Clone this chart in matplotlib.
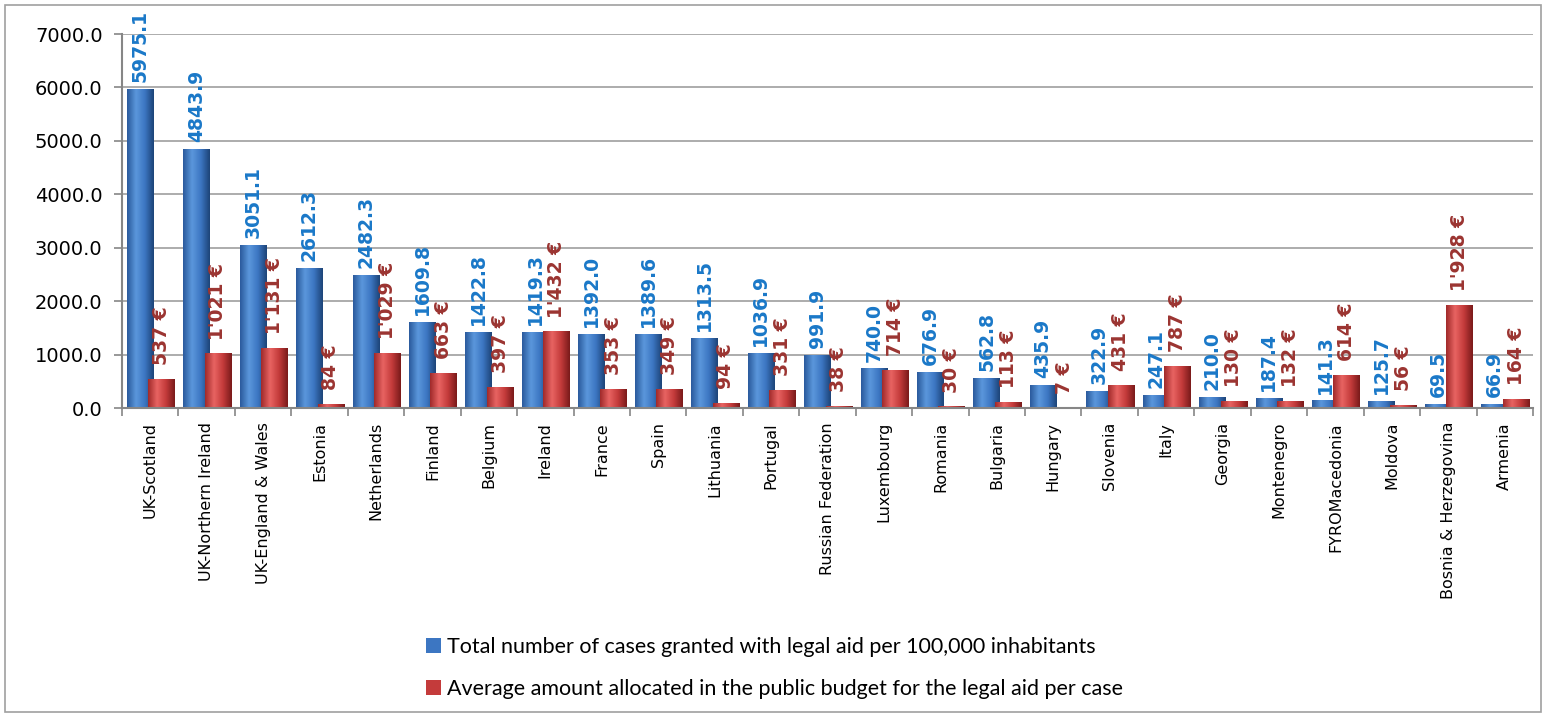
import matplotlib.pyplot as plt
import numpy as np
from matplotlib.colors import LinearSegmentedColormap
from matplotlib.patches import Rectangle
from matplotlib.ticker import FormatStrFormatter, FixedLocator

plt.rcParams['font.family'] = ['DejaVu Sans']

countries = ['UK-Scotland', 'UK-Northern Ireland', 'UK-England & Wales', 'Estonia',
             'Netherlands', 'Finland', 'Belgium', 'Ireland', 'France', 'Spain',
             'Lithuania', 'Portugal', 'Russian Federation', 'Luxembourg', 'Romania',
             'Bulgaria', 'Hungary', 'Slovenia', 'Italy', 'Georgia', 'Montenegro',
             'FYROMacedonia', 'Moldova', 'Bosnia & Herzegovina', 'Armenia']
cases = [5975.1, 4843.9, 3051.1, 2612.3, 2482.3, 1609.8, 1422.8, 1419.3, 1392.0,
         1389.6, 1313.5, 1036.9, 991.9, 740.0, 676.9, 562.8, 435.9, 322.9, 247.1,
         210.0, 187.4, 141.3, 125.7, 69.5, 66.9]
amount = [537, 1021, 1131, 84, 1029, 663, 397, 1432, 353, 349, 94, 331, 38, 714,
          30, 113, 7, 431, 787, 130, 132, 614, 56, 1928, 164]

label_cases = 'Total number of cases granted with legal aid per 100,000 inhabitants'
label_amount = 'Average amount allocated in the public budget for the legal aid per case'


def euro(v):
    return '{:,}'.format(v).replace(',', "'") + ' €'


fig = plt.figure(figsize=(15.46, 7.17), dpi=100)
ax = fig.add_axes([122 / 1546, 1 - 408 / 717, 1411 / 1546, 374 / 717])

x = np.arange(len(countries))
w = 0.47
blue_cm = LinearSegmentedColormap.from_list('b', ['#2a5a9c', '#5b97dc', '#3c76c2', '#1d4478'])
red_cm = LinearSegmentedColormap.from_list('r', ['#a02a2a', '#e86462', '#c43b3b', '#7a1a1a'])
grad = np.linspace(0, 1, 64).reshape(1, -1)

b1 = ax.bar(x - 0.18, cases, w, color='#3c76c2', zorder=3, label=label_cases)
b2 = ax.bar(x + 0.20, amount, w, color='#c43b3b', zorder=4, label=label_amount)

# horizontal shading on each bar to give the rounded look
for bars, cm, z in ((b1, blue_cm, 3), (b2, red_cm, 4)):
    for b in bars:
        x0, h = b.get_x(), b.get_height()
        im = ax.imshow(grad, cmap=cm, extent=(x0, x0 + b.get_width(), 0, h),
                       aspect='auto', zorder=z + 0.1, interpolation='bicubic')
        im.set_clip_path(b)

for b, v in zip(b1, cases):
    ax.annotate('%.1f' % v, (b.get_x() + b.get_width() / 2, v), xytext=(0, 5),
                textcoords='offset points', rotation=90, ha='center', va='bottom',
                color='#1a78c8', fontsize=13.5, fontweight='bold', zorder=6)
for b, v in zip(b2, amount):
    ax.annotate(euro(v), (b.get_x() + b.get_width() / 2, v), xytext=(0, 10),
                textcoords='offset points', rotation=90, ha='center', va='bottom',
                color='#9b3431', fontsize=13.5, fontweight='bold', zorder=6)

ax.set_xlim(-0.5, len(countries) - 0.5)
ax.set_ylim(0, 7000)
ax.set_yticks(np.arange(0, 7001, 1000))
ax.yaxis.set_major_formatter(FormatStrFormatter('%.1f'))
ax.set_xticks(x)
ax.set_xticklabels(countries, rotation=90, fontsize=11.5)
ax.xaxis.set_minor_locator(FixedLocator(np.arange(-0.5, len(countries), 1)))
ax.tick_params(axis='x', which='major', length=0, pad=10)
ax.tick_params(axis='x', which='minor', length=6, color='#868686', width=1.2)
ax.tick_params(axis='y', length=6, color='#868686', width=1.2, labelsize=14, pad=8)
ax.grid(axis='y', color='#a6a6a6', lw=1.3, zorder=0)
for s in ('top', 'right'):
    ax.spines[s].set_visible(False)
for s in ('left', 'bottom'):
    ax.spines[s].set_color('#868686')
    ax.spines[s].set_linewidth(1.5)
    ax.spines[s].set_zorder(5)

fig.legend(handles=[b1, b2], loc='upper left', bbox_to_anchor=(407 / 1546, 1 - 618 / 717),
           frameon=False, handlelength=0.7, handleheight=0.7, handletextpad=0.25,
           labelspacing=1.0, prop={'family': 'Lato', 'size': 15.5})

fig.patches.append(Rectangle((5 / 1546, 5 / 717), 1536 / 1546, 707 / 717, transform=fig.transFigure,
                             fill=False, edgecolor='#a0a0a0', lw=1.2))

fig.savefig('out.png', dpi=100)
